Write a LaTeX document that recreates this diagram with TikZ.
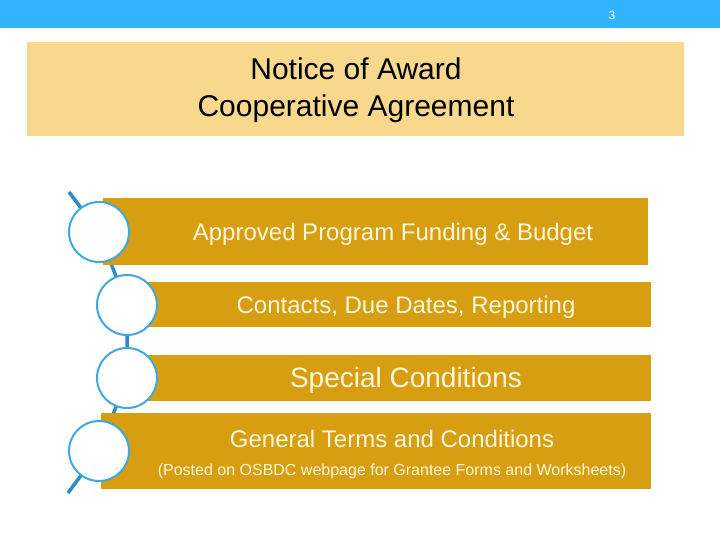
\documentclass[tikz,border=0pt]{standalone}
\usepackage{fontspec}
\setmainfont{Liberation Sans}
\usetikzlibrary{positioning,backgrounds}
\definecolor{topblue}{HTML}{30B4FC}
\definecolor{titletan}{HTML}{F8D88C}
\definecolor{bargold}{HTML}{D69E10}
\definecolor{ringblue}{HTML}{40A8DE}
\definecolor{linkblue}{HTML}{2C8ACB}
\definecolor{bartext}{HTML}{FFF7DC}
\newcommand{\fs}[2]{\fontsize{#1}{#2}\selectfont}
\tikzset{
  bar/.style={fill=bargold, draw=none, inner sep=0pt},
  ring/.style={circle, draw=ringblue, line width=2pt, fill=white, minimum size=60pt, inner sep=0pt},
  link/.style={draw=linkblue, line width=3.5pt},
  bartxt/.style={text=bartext, inner sep=0pt},
}
\begin{document}
\begin{tikzpicture}[x=1pt,y=-1pt]
\useasboundingbox (0,0) rectangle (720,540);
\begin{scope}[on background layer]
\fill [white] (0,0) rectangle (720,540);
\end{scope}
% header strip
\node [fill=topblue, minimum width=720pt, minimum height=28pt, inner sep=0pt, anchor=north west] (top) at (0,0) {};
\node [text=white, font=\fs{12}{14}] (pagenum) at (612,15) {3};
% title box
\node [fill=titletan, minimum width=657pt, minimum height=94pt, inner sep=0pt, align=center,
       font=\fs{30}{37}] (title) at (355.5,89) {};
\node [align=center, font=\fs{30}{37}, inner sep=0pt] (titletxt) at (356,90) {Notice of Award\\Cooperative Agreement};
% bars
\node [bar, minimum width=545pt, minimum height=67pt] (b1) at (375.5,231.5) {};
\node [bar, minimum width=503pt, minimum height=45pt] (b2) at (399.5,304.5) {};
\node [bar, minimum width=503pt, minimum height=46pt] (b3) at (399.5,378) {};
\node [bar, minimum width=550pt, minimum height=76pt] (b4) at (376,451) {};
\node [bartxt, font=\fs{24}{29}] (t1) at (393,234) {Approved Program Funding \& Budget};
\node [bartxt, font=\fs{24}{29}] (t2) at (406,307) {Contacts, Due Dates, Reporting};
\node [bartxt, font=\fs{28}{33}] (t3) at (406,380) {Special Conditions};
\node [bartxt, font=\fs{24}{29}] (t4) at (392,439) {General Terms and Conditions};
\node [bartxt, font=\fs{16}{19}] (t5) at (392,471) {(Posted on OSBDC webpage for Grantee Forms and Worksheets)};
% rings
\node [ring] (c1) at (99,232) {};
\node [ring] (c2) at (127,305) {};
\node [ring] (c3) at (127,378) {};
\node [ring] (c4) at (99,451) {};
\coordinate (tailtop) at (69,192);
\coordinate (tailbot) at (68,493);
\begin{scope}[on background layer]
\draw [link] (tailtop) -- (c1.center) -- (c2.center) -- (c3.center) -- (c4.center) -- (tailbot);
\end{scope}
\end{tikzpicture}
\end{document}
